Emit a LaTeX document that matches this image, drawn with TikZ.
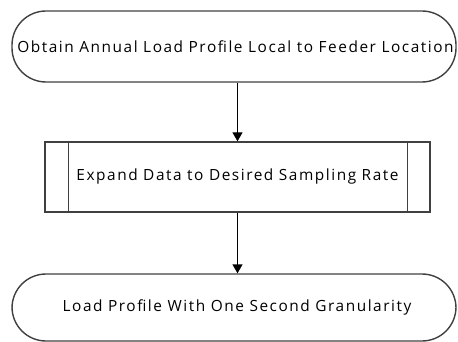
\documentclass[tikz,border=0pt]{standalone}
\usepackage{fontspec}
\setmainfont[LetterSpace=10]{Open Sans}
\usetikzlibrary{arrows.meta}
\tikzset{
  lbl/.style={font=\fontsize{15.4}{18}\selectfont},
  terminal/.style={draw=black!75, line width=1.4pt, rounded corners=34pt,
    minimum width=444pt, minimum height=71pt, inner sep=0pt, lbl},
  process/.style={draw=black!75, line width=1.4pt,
    minimum width=385pt, minimum height=70pt, inner sep=0pt, lbl},
  flow/.style={line width=1.4pt, -{Triangle[length=9pt,width=10pt]}}
}
\begin{document}
\begin{tikzpicture}[x=1pt,y=-1pt]
  \useasboundingbox (0,0) rectangle (458,342);
  \node[terminal] (obtain) at (234,46.5) {\hspace*{3pt}Obtain Annual Load Profile Local to Feeder Location};
  \node[process] (expand) at (237.5,177) {Expand Data to Desired Sampling Rate};
  % inner bars of the predefined-process box
  \draw[draw=black!75, line width=1.4pt]
    ([xshift=24pt]expand.north west) -- ([xshift=24pt]expand.south west)
    ([xshift=-23pt]expand.north east) -- ([xshift=-23pt]expand.south east);
  \node[terminal, minimum height=67pt] (result) at (234,307.5) {\hspace*{6pt}Load Profile With One Second Granularity};
  \draw[flow] (expand.north |- obtain.south) -- (expand.north);
  \draw[flow] (expand.south) -- (expand.south |- result.north);
\end{tikzpicture}
\end{document}
